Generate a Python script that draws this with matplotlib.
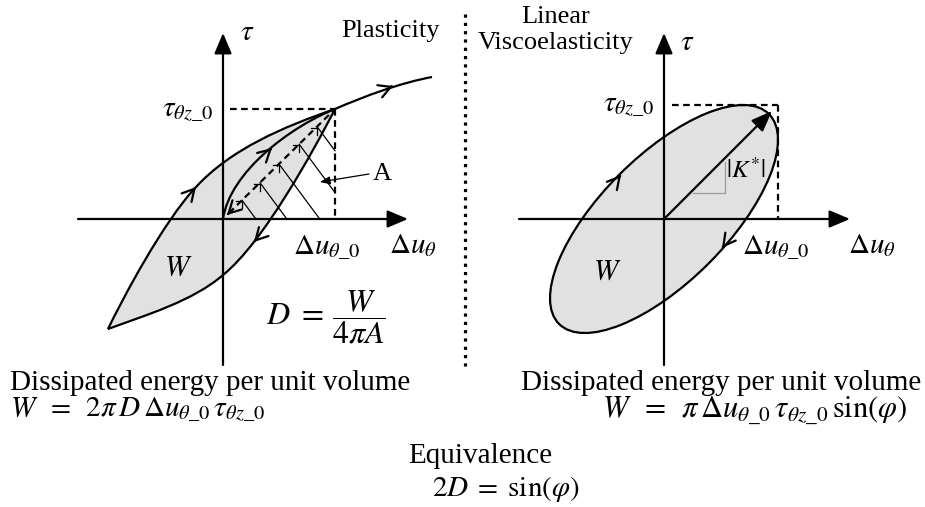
import numpy as np
import matplotlib
matplotlib.use("Agg")
import matplotlib.pyplot as plt
from matplotlib.path import Path
from matplotlib.patches import PathPatch, Ellipse

plt.rcParams["font.family"] = ["Liberation Serif", "DejaVu Serif"]
plt.rcParams["mathtext.fontset"] = "stix"

# ── key points of the sketch (pixel coords, y down) ──────────────────────
# left panel: plasticity loop
L_ORIGIN = (223, 219)
L_PEAK = (335, 109)
L_TIP = (108, 329)
L_KNEE = (196, 187)             # upper branch, where the arrow sits
L_MID = (223, 275)              # lower branch crosses the tau axis
L_END = (432, 77)               # end of the loading curve
L_UPPER1_CTRL = [(122, 300), (163, 222)]
L_UPPER2_CTRL = [(231, 149), (283, 127)]
L_LOWER_CTRL = [(314, 150), (263, 243)]
L_LOWER2_CTRL = [(193, 301), (146, 315)]
L_INNER_CTRL = [(230, 172), (290, 127)]
L_TAIL_CTRL = [(365, 96), (400, 83)]
HATCH_FRAC = [0.17, 0.33, 0.50, 0.68, 0.84]
HATCH_SLOPE = 1.35

# right panel: linear viscoelastic ellipse
R_ORIGIN = (664, 219)
R_AMP = 114                     # amplitude in du and tau
R_PHASE = 44                    # phase lag (deg)
R_TIP = (772, 111)

DIVIDER_X = 465

LW = 1.6
GREY = "#e1e1e1"


def chevron(ax, pt, d, size=12):
    d = np.asarray(d, float)
    d = d / np.hypot(*d)
    tail = np.asarray(pt) - d * 1.5
    ax.annotate("", xy=pt, xytext=tail,
                arrowprops=dict(arrowstyle="->,head_length=0.55,head_width=0.3",
                                lw=LW, color="k", shrinkA=0, shrinkB=0,
                                mutation_scale=size * 1.3))


def axis_arrow(ax, tail, tip):
    ax.annotate("", xy=tip, xytext=tail,
                arrowprops=dict(arrowstyle="-|>,head_length=0.9,head_width=0.38",
                                lw=LW, color="k", shrinkA=0, shrinkB=0,
                                mutation_scale=14))


fig = plt.figure(figsize=(9.25, 5.07), dpi=100)
ax = fig.add_axes([0, 0, 1, 1])
ax.set_xlim(0, 925)
ax.set_ylim(507, 0)
ax.axis("off")

# ── left panel ───────────────────────────────────────────────────────────
verts = [L_TIP,
         *L_UPPER1_CTRL, L_KNEE,
         *L_UPPER2_CTRL, L_PEAK,
         *L_LOWER_CTRL, L_MID,
         *L_LOWER2_CTRL, L_TIP]
codes = [Path.MOVETO] + [Path.CURVE4] * 12
loop = Path(verts, codes)
ax.add_patch(PathPatch(loop, facecolor=GREY, edgecolor="none", zorder=1))
ax.add_patch(PathPatch(loop, facecolor="none", edgecolor="k", lw=LW, zorder=4))

# inner reloading curve and continuation of the loading curve
for ctrl, a, b in [(L_INNER_CTRL, L_ORIGIN, L_PEAK), (L_TAIL_CTRL, L_PEAK, L_END)]:
    p = Path([a, ctrl[0], ctrl[1], b], [Path.MOVETO] + [Path.CURVE4] * 3)
    ax.add_patch(PathPatch(p, facecolor="none", edgecolor="k", lw=LW, zorder=4))

# axes
axis_arrow(ax, (78, L_ORIGIN[1]), (408, L_ORIGIN[1]))
axis_arrow(ax, (L_ORIGIN[0], 365), (L_ORIGIN[0], 33))

# dashed guides
ax.plot([230, L_PEAK[0]], [L_PEAK[1], L_PEAK[1]], "k", ls=(0, (3, 2)), lw=LW, zorder=3)
ax.plot([L_PEAK[0], L_PEAK[0]], [L_PEAK[1], L_ORIGIN[1]], "k", ls=(0, (3, 2)), lw=LW, zorder=3)
ax.plot([L_ORIGIN[0] + 6, L_PEAK[0]], [L_ORIGIN[1] - 6, L_PEAK[1]], "k",
        ls=(0, (3, 2)), lw=LW, zorder=3)

# hatching of the triangle A
ox, oy = L_ORIGIN
px, py = L_PEAK
for f in HATCH_FRAC:
    sx, sy = ox + f * (px - ox), oy + f * (py - oy)
    dx = (oy - sy) / HATCH_SLOPE
    ex, ey = sx + dx, oy
    if ex > px:
        ex, ey = px, sy + (px - sx) * HATCH_SLOPE
    ax.plot([sx, ex], [sy, ey], "k", lw=0.9, zorder=3)
    ax.plot([sx - 6, sx, sx], [sy + 1, sy + 1, sy + 8], "k", lw=0.9, zorder=3)

ax.annotate("", xy=(320, 182), xytext=(369, 174),
            arrowprops=dict(arrowstyle="-|>,head_length=0.5,head_width=0.2",
                            lw=0.9, color="k", shrinkA=0, shrinkB=0,
                            mutation_scale=12))

chevron(ax, L_KNEE, (0.66, -0.75))
chevron(ax, (272, 148), (0.73, -0.68))
chevron(ax, (254, 242), (-0.68, 0.73))
chevron(ax, (227, 215), (-0.7, 0.7))
chevron(ax, (393, 86), (0.93, -0.37))

ms = dict(fontsize=21, color="k")
ax.text(L_ORIGIN[0] + 24, 33, r"$\tau$", ha="center", va="center", **ms)
ax.text(390, 31, "Plasticity", ha="center", va="center", fontsize=19)
ax.text(214, L_PEAK[1] + 2, r"$\tau_{\theta z\_0}$", ha="right", va="center", **ms)
ax.text(327, 248, r"$\Delta u_{\theta\_0}$", ha="center", va="center", **ms)
ax.text(413, 246, r"$\Delta u_{\theta}$", ha="center", va="center", **ms)
ax.text(178, 268, r"$W$", ha="center", va="center", **ms)
ax.text(382, 174, "A", ha="center", va="center", fontsize=19)
ax.text(266, 317, r"$D\,\,=\,\dfrac{W}{4\pi A}$", ha="left", va="center", fontsize=23)

# ── divider ──────────────────────────────────────────────────────────────
ax.plot([DIVIDER_X, DIVIDER_X], [14, 368], "k", lw=2.3,
        ls=(0, (1, 1.6)), dash_capstyle="butt")

# ── right panel ──────────────────────────────────────────────────────────
s = np.sin(np.radians(R_PHASE))
ell_w = 2 * R_AMP * np.sqrt(1 + s)
ell_h = 2 * R_AMP * np.sqrt(1 - s)
ax.add_patch(Ellipse(R_ORIGIN, ell_w, ell_h, angle=-45, facecolor=GREY,
                     edgecolor="none", zorder=1))
ax.add_patch(Ellipse(R_ORIGIN, ell_w, ell_h, angle=-45, facecolor="none",
                     edgecolor="k", lw=LW, zorder=4))

axis_arrow(ax, (519, R_ORIGIN[1]), (850, R_ORIGIN[1]))
axis_arrow(ax, (R_ORIGIN[0], 365), (R_ORIGIN[0], 33))

rx, ry = R_ORIGIN
cx, cy = rx + R_AMP, ry - R_AMP
ax.plot([672, cx], [cy, cy], "k", ls=(0, (3, 2)), lw=LW, zorder=3)
ax.plot([cx, cx], [cy, ry], "k", ls=(0, (3, 2)), lw=LW, zorder=3)

ax.annotate("", xy=R_TIP, xytext=R_ORIGIN,
            arrowprops=dict(arrowstyle="-|>,head_length=0.9,head_width=0.35",
                            lw=LW, color="k", shrinkA=0, shrinkB=0,
                            mutation_scale=14), zorder=5)
ax.plot([693, 725, 725], [193, 193, 162], color="#9a9a9a", lw=0.9, zorder=3)

chevron(ax, (621, 175), (0.64, -0.77))
chevron(ax, (722, 248), (-0.6, 0.8))

ax.text(rx + 23, 43, r"$\tau$", ha="center", va="center", **ms)
ax.text(556, 17, "Linear", ha="center", va="center", fontsize=19)
ax.text(556, 43, "Viscoelasticity", ha="center", va="center", fontsize=19)
ax.text(655, cy + 1, r"$\tau_{\theta z\_0}$", ha="right", va="center", **ms)
ax.text(776, 248, r"$\Delta u_{\theta\_0}$", ha="center", va="center", **ms)
ax.text(872, 246, r"$\Delta u_{\theta}$", ha="center", va="center", **ms)
ax.text(607, 272, r"$W$", ha="center", va="center", **ms)
ax.text(746, 170, r"$|K^{*}|$", ha="center", va="center", fontsize=18)

# ── bottom text ──────────────────────────────────────────────────────────
ax.text(10, 390, "Dissipated energy per unit volume", ha="left", va="baseline", fontsize=21)
ax.text(10, 416,
        r"$W\;\;=\;\;2\pi\, D\,\Delta u_{\theta\_0}\,\tau_{\theta z\_0}$",
        ha="left", va="baseline", fontsize=21)
ax.text(921, 390, "Dissipated energy per unit volume", ha="right", va="baseline", fontsize=21)
ax.text(908, 418,
        r"$W\;\;=\;\;\pi\,\Delta u_{\theta\_0}\,\tau_{\theta z\_0}\,\mathrm{sin}(\varphi)$",
        ha="right", va="baseline", fontsize=22)
ax.text(480, 463, "Equivalence", ha="center", va="baseline", fontsize=21)
ax.text(432, 496, r"$2D\;=\;\mathrm{sin}(\varphi)$", ha="left", va="baseline", fontsize=21)

fig.savefig("out.png", dpi=100)
